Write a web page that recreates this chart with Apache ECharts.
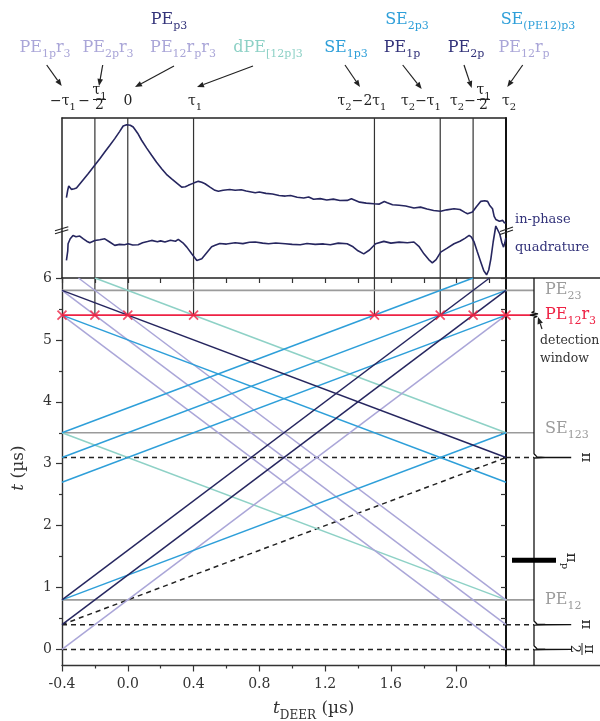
<!DOCTYPE html>
<html><head><meta charset="utf-8">
<script src="https://cdn.jsdelivr.net/npm/echarts@6/dist/echarts.min.js"></script>
<style>html,body{margin:0;padding:0;background:#fff}#c{width:600px;height:721px}</style>
</head><body><div id="c"></div>
<script>
// ---------------- data ----------------
const xLabelTicks = [-0.4, 0.0, 0.4, 0.8, 1.2, 1.6, 2.0];
const xMinorTicks = [-0.2, 0.2, 0.6, 1.0, 1.4, 1.8, 2.2];
const yLabelTicks = [0, 1, 2, 3, 4, 5, 6];
const yMinorTicks = [0.5, 1.5, 2.5, 3.5, 4.5, 5.5];
const markerX = [-0.4, -0.2, 0.0, 0.4, 1.5, 1.9, 2.1, 2.3];
const guideX = [-0.2, 0.0, 0.4, 1.5, 1.9, 2.1];
const detectionT = 5.4;
const echoLevels = [0.8, 3.5, 5.8];           // PE12, SE123, PE23
const pulseTimes = [0.0, 0.4, 3.1];           // pi/2, pi, pi
const pulseAmps = [0.93, 0.93, 0.93];
const pumpPulseT = 1.44;
const pumpPulseExtent = [-0.55, 0.55];
const pumpLine = [[-0.4, 0.4, 2.3, 3.1]];
const navyLines = [[-0.4, 0.8, 2.2, 6.0], [-0.4, 0.4, 2.3, 5.8], [-0.4, 5.8, 2.3, 3.1]];
const blueLines = [[-0.4, 5.4, 2.3, 2.7], [-0.4, 3.5, 2.1, 6.0], [-0.4, 3.1, 2.3, 5.8], [-0.4, 2.7, 2.3, 5.4], [-0.4, 0.8, 2.3, 3.5]];
const lavenderLines = [[-0.4, 5.4, 2.3, 0.0], [-0.4, 5.8, 2.3, 0.4], [-0.3, 6.0, 2.3, 0.8], [-0.4, 0.0, 2.3, 5.4]];
const tealLines = [[-0.2, 6.0, 2.3, 3.5], [-0.4, 3.5, 2.3, 0.8]];
// pulse profile: [time offset, relative amplitude]
const pulseShape = [[-0.008, 0], [-0.003, 0.3], [0, 1], [0.003, 0.3], [0.01, 0.08], [0.03, 0.03], [0.06, 0]];
const detectWiggle = [[5.36, 0], [5.38, 0.08], [5.40, -0.1], [5.42, 0.1], [5.44, -0.06], [5.46, 0]];
const inPhase = [[-0.373,50.2],[-0.365,55],[-0.359,57.5],[-0.343,55.4],[-0.325,55.8],[-0.312,56.2],[-0.282,60.0],[-0.241,65.2],[-0.201,70.4],[-0.17,74.5],[-0.14,78.7],[-0.11,82.8],[-0.079,87.1],[-0.05,91.5],[-0.028,95.0],[-0.007,95.8],[0.015,95.5],[0.033,94.4],[0.06,90.5],[0.084,86.1],[0.115,81.2],[0.145,76.7],[0.175,72.3],[0.206,68.3],[0.235,64.8],[0.267,62.0],[0.3,59.2],[0.328,56.8],[0.35,57.0],[0.368,57.9],[0.4,59.3],[0.429,60.4],[0.45,59.8],[0.47,58.9],[0.5,56.8],[0.53,54.8],[0.551,54.2],[0.58,54.8],[0.62,55.3],[0.653,54.8],[0.69,55.2],[0.72,54.4],[0.775,53.3],[0.8,53.8],[0.84,52.9],[0.88,52.5],[0.92,51.6],[0.958,51.2],[0.99,51.6],[1.03,50.5],[1.07,50.0],[1.1,50.6],[1.13,49.2],[1.17,49.6],[1.21,48.8],[1.25,49.3],[1.29,48.4],[1.334,48.5],[1.36,49.6],[1.41,47.4],[1.45,46.8],[1.496,46.4],[1.53,46.2],[1.56,47.8],[1.578,47.0],[1.61,45.8],[1.65,45.5],[1.69,45.0],[1.74,43.7],[1.78,44.3],[1.82,43.1],[1.86,42.2],[1.903,41.7],[1.94,42.6],[1.984,43.3],[2.02,42.8],[2.05,41.0],[2.066,40.2],[2.096,41.2],[2.12,44.5],[2.147,47.9],[2.17,48.3],[2.188,47.9],[2.2,45.5],[2.218,43.3],[2.228,38.5],[2.238,36.6],[2.25,37.0],[2.26,35.5],[2.269,35.4],[2.28,36.0],[2.29,34.5],[2.299,34.3]];
const quadrature = [[-0.373,11.0],[-0.365,17],[-0.363,21.4],[-0.35,24.5],[-0.333,26.6],[-0.315,25.8],[-0.292,26.2],[-0.27,24.5],[-0.25,23.0],[-0.231,22.0],[-0.2,23.4],[-0.17,23.9],[-0.14,24.5],[-0.11,22.5],[-0.079,20.4],[-0.05,21.0],[-0.02,20.8],[0.002,21.4],[0.03,20.6],[0.063,20.8],[0.09,22.0],[0.12,22.8],[0.145,23.5],[0.18,22.6],[0.2,23.2],[0.226,22.5],[0.26,23.6],[0.29,23.0],[0.307,24.1],[0.335,22.0],[0.359,19.3],[0.39,15.0],[0.42,11.0],[0.45,12.0],[0.48,15.8],[0.51,19.5],[0.531,20.4],[0.56,21.6],[0.6,21.2],[0.653,22.0],[0.7,21.5],[0.74,22.3],[0.775,22.5],[0.82,21.8],[0.856,21.4],[0.9,21.9],[0.958,21.4],[1.0,21.0],[1.049,20.8],[1.09,21.6],[1.14,21.0],[1.19,21.3],[1.232,20.8],[1.28,21.8],[1.334,21.4],[1.37,19.5],[1.4,17.0],[1.435,15.1],[1.47,17.5],[1.507,21.4],[1.557,22.9],[1.6,21.8],[1.65,22.4],[1.7,22.0],[1.74,22.5],[1.77,19.8],[1.801,15.1],[1.83,11.5],[1.852,9.5],[1.875,11.5],[1.903,16.2],[1.94,18.5],[1.984,21.4],[2.02,23.0],[2.05,24.8],[2.076,26.6],[2.09,25.5],[2.106,22.5],[2.125,16.5],[2.147,9.9],[2.165,4.5],[2.182,2.0],[2.195,5.0],[2.208,12.0],[2.222,22.5],[2.238,32.5],[2.25,31.5],[2.262,27.5],[2.275,22.0],[2.285,19.3],[2.293,22.0],[2.299,25.0]];

// ---------------- style ----------------
const F = 'DejaVu Serif';
const C = {navy:'#26265f', navyT:'#33337a', blue:'#2e9fd9', lav:'#aaa6d8', teal:'#8ed1c6', red:'#ee2244', gray:'#9b9b9b', ink:'#222'};
const xMin = -0.4, xMax = 2.3, yMin = -0.26, yMax = 6;
const pMin = -0.7, pMax = 1.65;

function seg(list, color, width, type, xi, yi, z) {
  return list.map(s => ({type:'line', xAxisIndex:xi, yAxisIndex:yi, data:[[s[0], s[1]], [s[2], s[3]]],
    showSymbol:false, silent:true, z:z||2, lineStyle:{color, width, type:type||'solid'}}));
}
const series = [];
// upper panel guides and traces
series.push(...seg(guideX.map(g => [g, 0, g, 100]), '#333', 1.2, 'solid', 0, 0, 1));
series.push({type:'line', xAxisIndex:0, yAxisIndex:0, data:inPhase, showSymbol:false, silent:true, z:3, lineStyle:{color:C.navy, width:1.6}});
series.push({type:'line', xAxisIndex:0, yAxisIndex:0, data:quadrature, showSymbol:false, silent:true, z:3, lineStyle:{color:C.navy, width:1.6}});
// main panel
series.push(...seg(guideX.map(g => [g, detectionT, g, yMax]), '#333', 1.2, 'solid', 1, 2, 1));
series.push(...seg(echoLevels.map(v => [xMin, v, xMax, v]), C.gray, 1.6, 'solid', 1, 2, 2));
series.push(...seg(pulseTimes.map(v => [xMin, v, xMax, v]), C.ink, 1.5, [5, 4], 1, 2, 2));
series.push(...seg(pumpLine, C.ink, 1.5, [5, 4], 1, 2, 2));
series.push(...seg(tealLines, C.teal, 1.5, 'solid', 1, 2, 3));
series.push(...seg(lavenderLines, C.lav, 1.5, 'solid', 1, 2, 3));
series.push(...seg(blueLines, C.blue, 1.5, 'solid', 1, 2, 4));
series.push(...seg(navyLines, C.navy, 1.5, 'solid', 1, 2, 5));
series.push(...seg([[xMin, detectionT, xMax, detectionT]], C.red, 1.8, 'solid', 1, 2, 6));
series.push({type:'scatter', xAxisIndex:1, yAxisIndex:2, data:markerX.map(x => [x, detectionT]), silent:true, z:7,
  symbol:'path://M0,0L10,10M10,0L0,10', symbolSize:9, itemStyle:{color:'none', borderColor:C.red, borderWidth:1.7}});
// pulse panel
series.push(...seg(echoLevels.map(v => [pMin, v, 0, v]), C.gray, 1.6, 'solid', 4, 5, 2));
series.push(...seg(pulseTimes.map(v => [pMin, v, 0, v]), C.ink, 1.5, [5, 4], 4, 5, 2));
series.push(...seg([[pMin, detectionT, 0, detectionT]], C.red, 1.8, 'solid', 4, 5, 2));
const trace = [[0, yMin]];
pulseTimes.forEach((t, i) => pulseShape.forEach(p => trace.push([p[1] * pulseAmps[i], t + p[0]])));
detectWiggle.forEach(p => trace.push([p[1], p[0]]));
trace.push([0, yMax]);
series.push({type:'line', xAxisIndex:4, yAxisIndex:5, data:trace, showSymbol:false, silent:true, z:4, lineStyle:{color:'#111', width:1.3}});
series.push(...seg([[pumpPulseExtent[0], pumpPulseT, pumpPulseExtent[1], pumpPulseT]], '#000', 5, 'solid', 4, 5, 5));

// ---------------- axes ----------------
function ax(o) { return Object.assign({type:'value', splitLine:{show:false}, axisTick:{show:false}, axisLabel:{show:false}, axisLine:{show:false, onZero:false}}, o); }
const line = (w, c) => ({show:true, onZero:false, lineStyle:{color:c || '#222', width:w}});
const labelStyle = {fontFamily:F, fontSize:14, color:'#333'};
const xAxis = [
  ax({gridIndex:0, min:xMin, max:xMax, position:'top', axisLine:line(1.5)}),
  ax({gridIndex:1, min:xMin, max:xMax, position:'bottom', axisLine:line(1.4, '#333'),
      axisTick:{show:true, customValues:xLabelTicks, length:6, lineStyle:{color:'#333', width:1.2}},
      axisLabel:Object.assign({show:true, customValues:xLabelTicks, formatter:v => v.toFixed(1), margin:12}, labelStyle)}),
  ax({gridIndex:1, min:xMin, max:xMax, position:'bottom', axisTick:{show:true, customValues:xMinorTicks, length:3, lineStyle:{color:'#333', width:1.2}}}),
  ax({gridIndex:1, min:xMin, max:xMax, position:'top', axisLine:line(1.5),
      axisTick:{show:true, inside:true, customValues:xLabelTicks.concat(xMinorTicks), length:5, lineStyle:{color:'#333', width:1.2}}}),
  ax({gridIndex:2, min:pMin, max:pMax, position:'bottom', axisLine:line(1.4, '#333')}),
  ax({gridIndex:2, min:pMin, max:pMax, position:'top', axisLine:line(1.5)})
];
const yAxis = [
  ax({gridIndex:0, min:0, max:100, position:'left', axisLine:line(1.5)}),
  ax({gridIndex:0, min:0, max:100, position:'right', axisLine:line(2, '#111')}),
  ax({gridIndex:1, min:yMin, max:yMax, position:'left', axisLine:line(1.4, '#333'),
      axisTick:{show:true, customValues:yLabelTicks, length:6, lineStyle:{color:'#333', width:1.2}},
      axisLabel:Object.assign({show:true, customValues:yLabelTicks, margin:10}, labelStyle)}),
  ax({gridIndex:1, min:yMin, max:yMax, position:'left', axisTick:{show:true, customValues:yMinorTicks, length:3, lineStyle:{color:'#333', width:1.2}}}),
  ax({gridIndex:1, min:yMin, max:yMax, position:'right', axisLine:line(2, '#111'),
      axisTick:{show:true, inside:true, customValues:yLabelTicks.concat(yMinorTicks), length:5, lineStyle:{color:'#333', width:1.2}}}),
  ax({gridIndex:2, min:yMin, max:yMax, show:false})
];

// ---------------- annotations ----------------
function rich(size, color) {
  const s = Math.round(size * 0.68);
  return {
    b:{fontFamily:F, fontSize:size, lineHeight:size + 2, verticalAlign:'top', fill:color},
    i:{fontFamily:F, fontSize:size, fontStyle:'italic', lineHeight:size + 2, verticalAlign:'top', fill:color},
    s:{fontFamily:F, fontSize:s, lineHeight:s, padding:[Math.round(size * 0.58), 0, 0, 0], verticalAlign:'top', fill:color}
  };
}
function txt(x, y, text, color, size, align, extra) {
  return Object.assign({type:'text', x, y, silent:true, z:100,
    style:{text, fill:color, fontFamily:F, fontSize:size, textAlign:align || 'center', textVerticalAlign:'top', rich:rich(size, color)}}, extra || {});
}
function arrow(a) {
  const [x1, y1, x2, y2] = a, ang = Math.atan2(y2 - y1, x2 - x1), L = 7, W = 2.8;
  const bx = x2 - L * Math.cos(ang), by = y2 - L * Math.sin(ang), px = -Math.sin(ang) * W, py = Math.cos(ang) * W;
  return [{type:'line', silent:true, z:100, shape:{x1, y1, x2:bx, y2:by}, style:{stroke:'#222', lineWidth:1.2}},
          {type:'polygon', silent:true, z:100, shape:{points:[[x2, y2], [bx + px, by + py], [bx - px, by - py]]}, style:{fill:'#222'}}];
}
const g = [];
// top labels
g.push(txt(169, 12, '{b|PE}{s|p3}', C.navyT, 16));
g.push(txt(407, 12, '{b|SE}{s|2p3}', C.blue, 16));
g.push(txt(538, 12, '{b|SE}{s|(PE12)p3}', C.blue, 16));
g.push(txt(45, 40, '{b|PE}{s|1p}{b|r}{s|3}', C.lav, 16));
g.push(txt(108, 40, '{b|PE}{s|2p}{b|r}{s|3}', C.lav, 16));
g.push(txt(183, 40, '{b|PE}{s|12}{b|r}{s|p}{b|r}{s|3}', C.lav, 16));
g.push(txt(268, 40, '{b|dPE}{s|[12p]3}', C.teal, 16));
g.push(txt(346, 40, '{b|SE}{s|1p3}', C.blue, 16));
g.push(txt(402, 40, '{b|PE}{s|1p}', C.navyT, 16));
g.push(txt(466, 40, '{b|PE}{s|2p}', C.navyT, 16));
g.push(txt(524, 40, '{b|PE}{s|12}{b|r}{s|p}', C.lav, 16));
[[46.7,65,61.7,86],[102.7,65,99,86],[174,66,135,87],[253,66,197,87],[345,65,360,87],[402.7,65,421.7,89],[464,65,471.7,88],[522.7,65,507.3,87],[542,329,538,317]]
  .forEach(a => g.push(...arrow(a)));
// math tick labels
const mathY = 94;
g.push(txt(63, mathY, '{b|−τ}{s|1}', '#222', 14));
g.push(txt(84, mathY, '{b|−}', '#222', 14));
g.push(txt(99.5, 83, '{b|τ}{s|1}', '#222', 14));
g.push({type:'line', silent:true, z:100, shape:{x1:93, y1:99.5, x2:106, y2:99.5}, style:{stroke:'#222', lineWidth:1}});
g.push(txt(99.5, 98, '{b|2}', '#222', 14));
g.push(txt(128, mathY, '{b|0}', '#222', 14));
g.push(txt(195, mathY, '{b|τ}{s|1}', '#222', 14));
g.push(txt(362, mathY, '{b|τ}{s|2}{b|−2τ}{s|1}', '#222', 14));
g.push(txt(421, mathY, '{b|τ}{s|2}{b|−τ}{s|1}', '#222', 14));
g.push(txt(463, mathY, '{b|τ}{s|2}{b|−}', '#222', 14));
g.push(txt(483.5, 83, '{b|τ}{s|1}', '#222', 14));
g.push({type:'line', silent:true, z:100, shape:{x1:477, y1:99.5, x2:490, y2:99.5}, style:{stroke:'#222', lineWidth:1}});
g.push(txt(483.5, 98, '{b|2}', '#222', 14));
g.push(txt(509, mathY, '{b|τ}{s|2}', '#222', 14));
// breaks
[[55,230.7,68.3,226.7],[55,233.7,68.3,229.7],[500,231.5,513,227],[500,234.5,513,230]].forEach(l =>
  g.push({type:'line', silent:true, z:100, shape:{x1:l[0], y1:l[1], x2:l[2], y2:l[3]}, style:{stroke:'#222', lineWidth:1.2}}));
g.push(txt(515, 213, '{b|in-phase}', C.navyT, 13, 'left'));
g.push(txt(515, 241, '{b|quadrature}', C.navyT, 13, 'left'));
// right labels
g.push(txt(545, 282, '{b|PE}{s|23}', C.gray, 16, 'left'));
g.push(txt(545, 307, '{b|PE}{s|12}{b|r}{s|3}', C.red, 16, 'left'));
g.push(txt(540, 334, '{b|detection}', '#333', 12.5, 'left'));
g.push(txt(540, 352, '{b|window}', '#333', 12.5, 'left'));
g.push(txt(545, 421, '{b|SE}{s|123}', C.gray, 16, 'left'));
g.push(txt(545, 592, '{b|PE}{s|12}', C.gray, 16, 'left'));
// pulse labels (rotated)
const rot = -Math.PI / 2;
function rtxt(x, y, text, size) {
  return {type:'text', x, y, rotation:rot, silent:true, z:100,
    style:{text, fill:'#222', fontFamily:F, fontSize:size, textAlign:'center', textVerticalAlign:'middle', rich:rich(size, '#222')}};
}
g.push(rtxt(585, 457.5, '{b|π}', 15));
g.push(rtxt(585, 624.5, '{b|π}', 15));
g.push(rtxt(570, 561, '{b|π}{s|p}', 15));
g.push({type:'group', x:582, y:649, rotation:rot, silent:true, z:100, children:[
  {type:'text', x:0, y:-7, style:{text:'π', fill:'#222', fontFamily:F, fontSize:14, textAlign:'center', textVerticalAlign:'middle'}},
  {type:'line', shape:{x1:-6, y1:0, x2:6, y2:0}, style:{stroke:'#222', lineWidth:1}},
  {type:'text', x:0, y:7.5, style:{text:'2', fill:'#222', fontFamily:F, fontSize:13, textAlign:'center', textVerticalAlign:'middle'}}
]});
// axis titles
g.push(txt(273, 700, '{i|t}{s|DEER}{b| (µs)}', '#333', 17, 'left'));
g.push({type:'text', x:20, y:468, rotation:Math.PI / 2, silent:true, z:100,
  style:{text:'{i|t}{b| (µs)}', fill:'#333', fontFamily:F, fontSize:17, textAlign:'center', textVerticalAlign:'middle', rich:rich(17, '#333')}});

const chart = echarts.init(document.getElementById('c'), null, {renderer:'canvas'});
chart.setOption({
  animation:false, backgroundColor:'#fff',
  grid:[{left:62, right:94, top:118, height:160}, {left:62, right:94, top:278, bottom:55.5}, {left:506, right:0, top:278, bottom:55.5}],
  xAxis, yAxis, series, graphic:g
});
</script></body></html>
